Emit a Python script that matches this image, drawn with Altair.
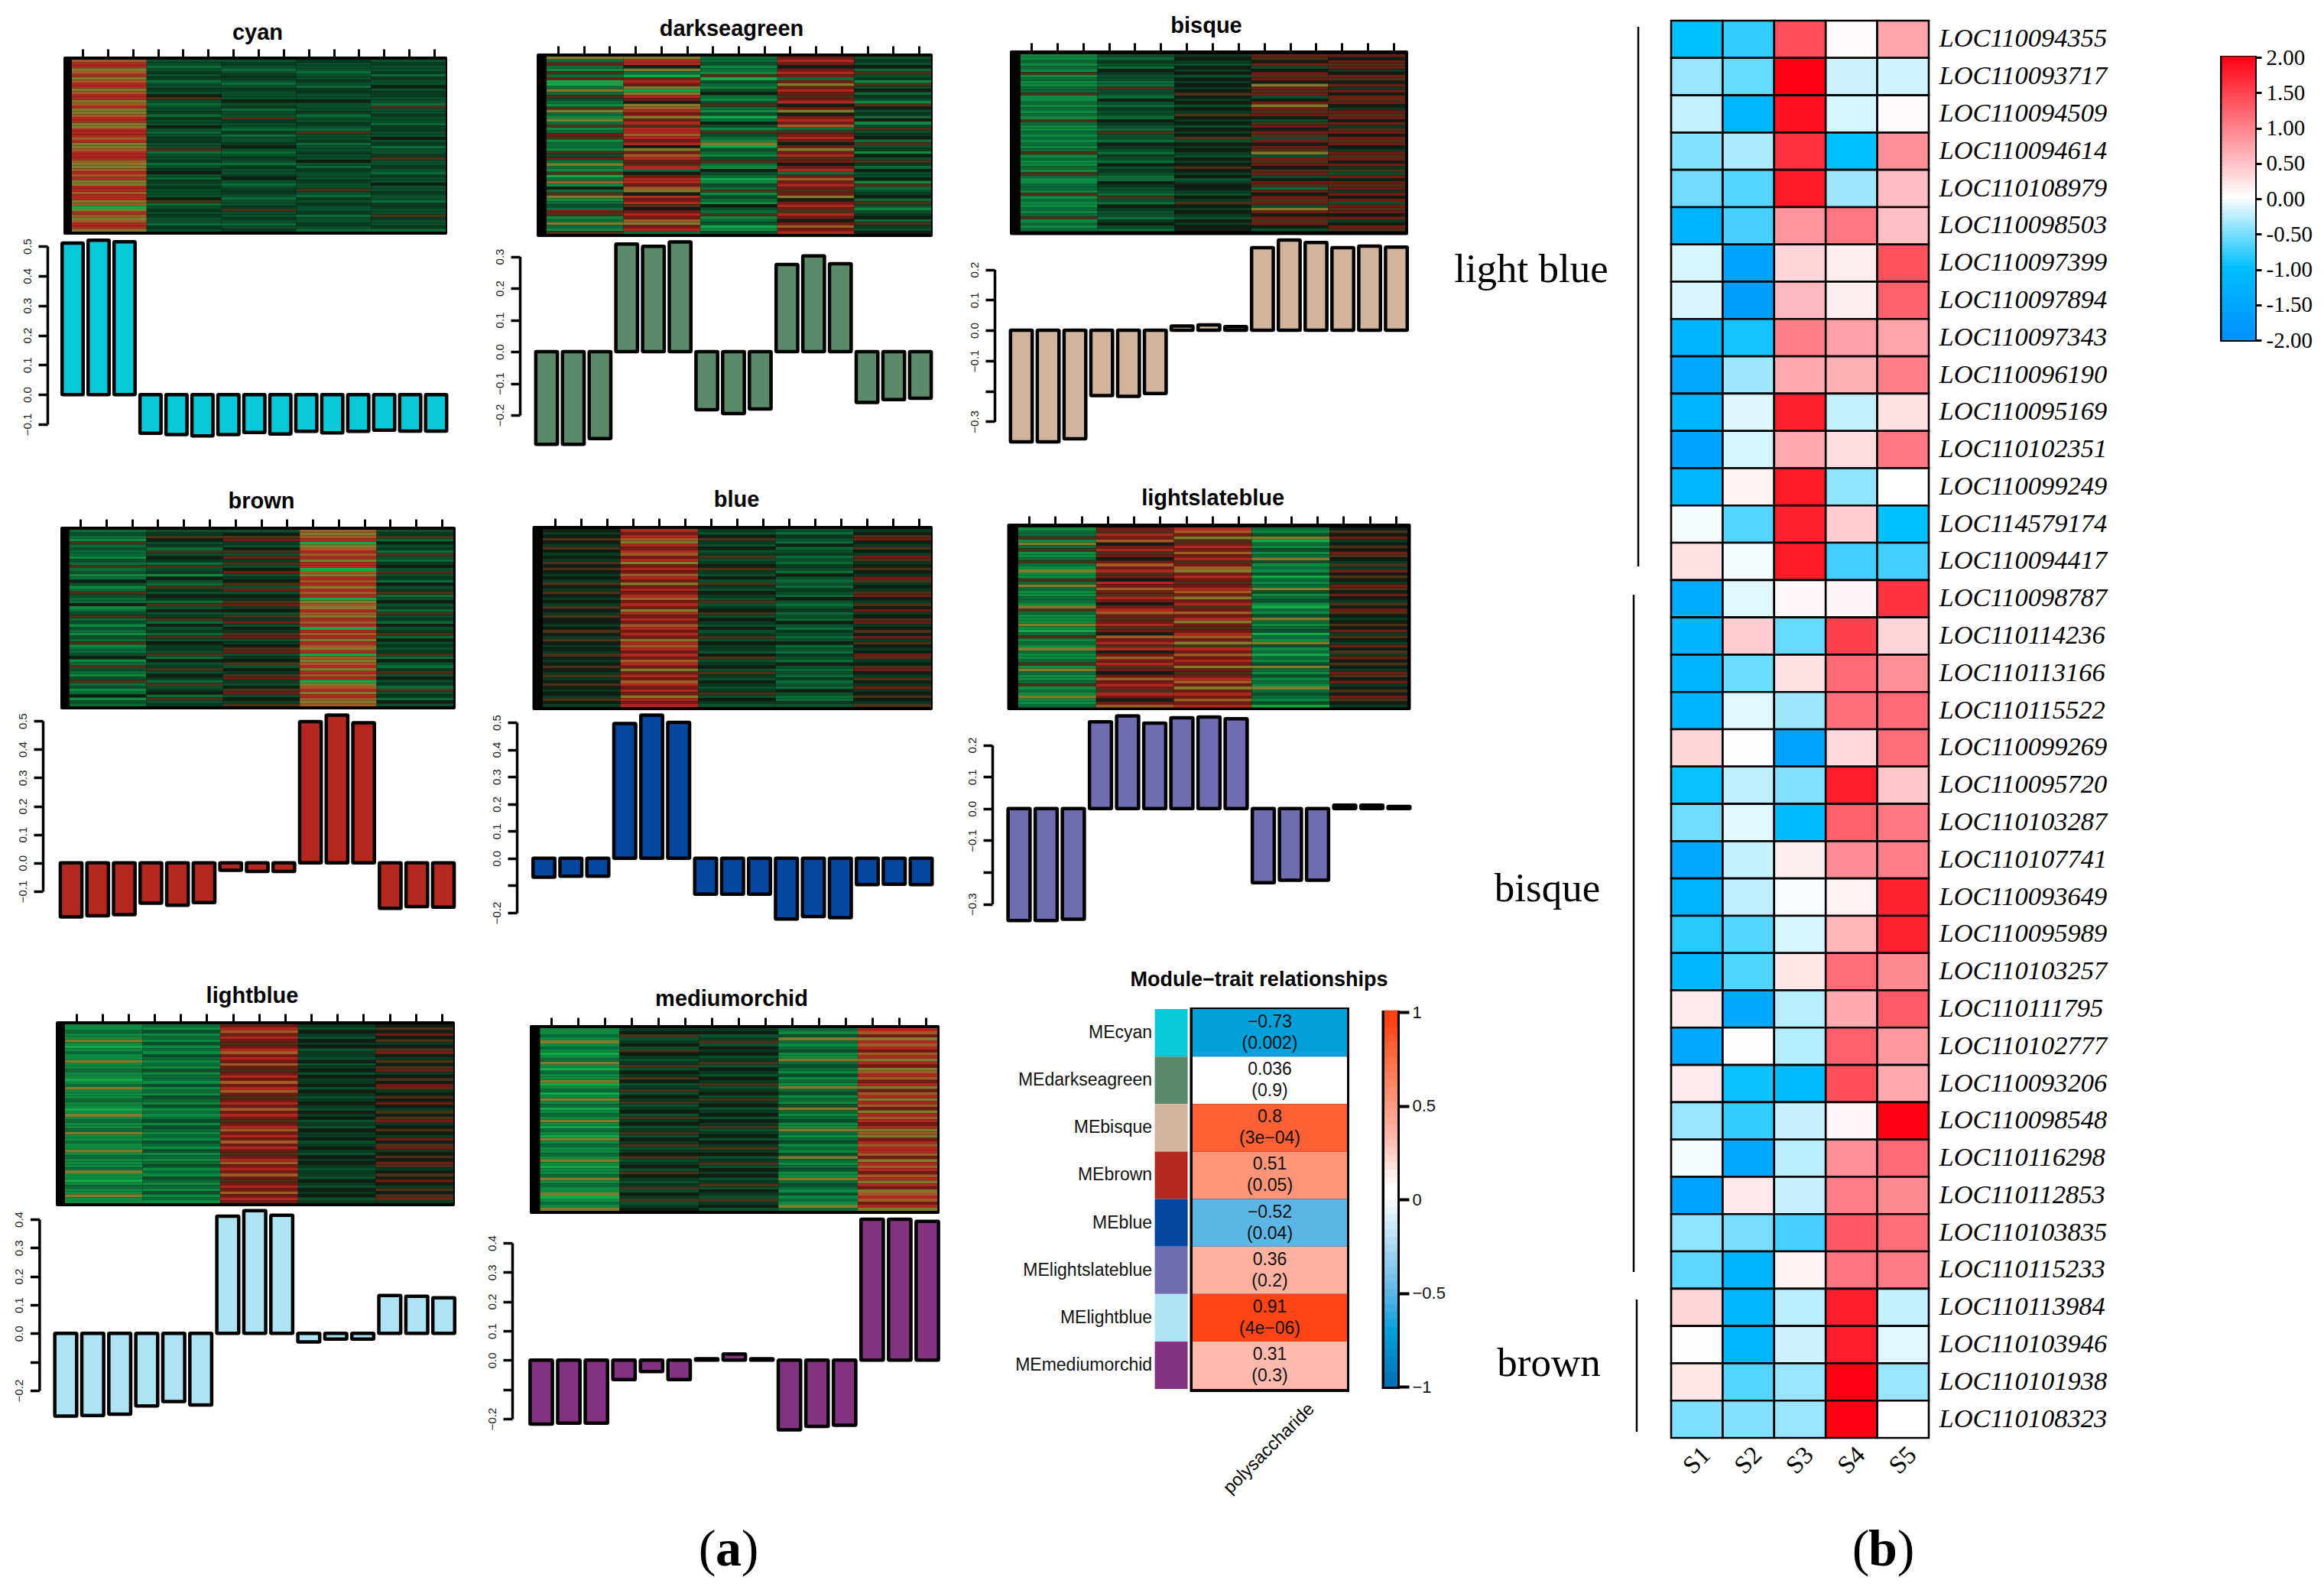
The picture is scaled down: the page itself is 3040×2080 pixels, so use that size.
import altair as alt
import numpy as np

W, H = 3024, 2064
def X(v): return v - 8
def Y(v): return v - 8

TONE_DOMAIN = list("0123456789r")
TONE_RANGE = ["#12A848", "#0D8A3F", "#0A6A38", "#0A4E2C", "#0A3A22", "#111E14",
              "#4A3218", "#A05A28", "#807A2C", "#AE2820", "#701C14"]

STRIPES_CYAN = [
 "799879879987998798879988999798879997887979889979987089787998",
 "332343423343563233424335323443362334234532434333562343433243",
 "343234432343335342336433242334532343243345323443233463343234",
 "433323343244335333423343263342334335324333433632434334233432",
 "343342433534433263343324433534233463343243353343324433643342"]
STRIPES_DARKSEAGREEN = [
 "82r2162r002826321682182612r6122163r28216027152681232r6128216",
 "8995820r9r8089r5879r8r969979r958r79r6925r99r7859r965r9r78r92",
 "223121603213521362130253163218032136215320132613215326123013",
 "r9r5r9r2r8r9r6r95r85r9r726r9r5r8r96r5r92r7r9r6r85r9r69r5r7r9",
 "343526341635243165342513634526341536425335162345263134526435"]
STRIPES_BISQUE = [
 "112121612112261121212162112121212612112162112216121121261212",
 "324325433226332532433254326332543243253432254332632543324532",
 "454354535454565453546545354563545435456545345543546545435455",
 "r65r35r6r58r6r35r8r6r536r5r63r5r683r6r56r35r62r5r6r38r5r6r53",
 "r5r6r45r65r4r5r6r54r6r5r46r5r6r54r6r5r463r5r6r4r5r3r6r5r45r6"]
STRIPES_BROWN = [
 "232162322132623125312632251236231321326122351263213623125132",
 "346534263542634153264354263534625342635443625346354263452634",
 "356r43563r4635r34563r3546r45364r3546r3456r34563546r4356r3546",
 "787908797989907897989790878978979097989789078798979087989787",
 "346253426324536342534623534263425346253434625324635342634253"]
STRIPES_BLUE = [
 "545654654546565454654654546546554565465454654565464565454654",
 "9r9789r97r98r9r79r8r9r97r9r89r9r79r9r8979r9r79r8r9r79r9r89r9",
 "435643534634564353643543634563543534635443563453643543463543",
 "324325234232432532324325323423253243235232432532324232532243",
 "456r54654r645654r64546r5465r456r4565r46545r6456r54654r456546"]
STRIPES_LIGHTSLATEBLUE = [
 "122618261126218116282112218621118102612182112618211261218112",
 "r69r75r96r5r7r96r59r7r69r5r97r6r96r57r9695r7r96r5r7r9r69r5r7",
 "97r86r9r7r96r78r9r6r97r8r96r7r98r6r97r869r7r9r8r6r97r8r9r7r9",
 "213802131283121302128312310213821230218312021382131218232130",
 "565r4565r65464r5654r65r5465r654565r4654r564r5654r65r4565r654"]
STRIPES_LIGHTBLUE = [
 "112118101211811211012811121101812112811211812111281101211811",
 "213121312132121312213121321312123132121321312123121321213121",
 "r97r9r6r97r9r7r6r9r7r97r6r9r7r9r6r97r9r7r9r6r97r9r7r6r9r7r9r",
 "435435453443534535445354345435453435445345435454344354354534",
 "565r56456r54656r4565r64565r54656r45654r56r4565r64565r54656r4"]
STRIPES_MEDIUMORCHID = [
 "112181210128102118012018120121810210812112181011281211801218",
 "456345365434635465346354634536453463546345634536543463546345",
 "453463545346354354634536453453546345354645346354534635436453",
 "213821231182321312182312138212311821231213821231182321312182",
 "97r8979r7989r8797r98r79897r8979r9878r97997r8979r7989r8797r98"]

VALS_CYAN = [.51, .52, .515, -.13, -.135, -.139, -.135, -.128, -.133, -.124, -.129, -.124, -.12, -.123, -.123]
VALS_DARKSEAGREEN = [-.292, -.292, -.274, .339, .332, .346, -.183, -.195, -.181, .275, .302, .277, -.16, -.151, -.147]
VALS_BISQUE = [-.367, -.367, -.357, -.215, -.217, -.208, .014, .018, .012, .272, .297, .289, .272, .277, .274]
VALS_BROWN = [-.19, -.186, -.182, -.142, -.149, -.14, -.026, -.03, -.03, .497, .52, .493, -.16, -.154, -.156]
VALS_BLUE = [-.069, -.066, -.066, .496, .527, .5, -.132, -.132, -.132, -.223, -.214, -.218, -.097, -.095, -.097]
VALS_LIGHTSLATEBLUE = [-.352, -.352, -.348, .273, .292, .269, .286, .288, .283, -.233, -.225, -.225, .011, .011, .007]
VALS_LIGHTBLUE = [-.29, -.2875, -.283, -.254, -.239, -.251, .411, .43, .414, -.03, -.02, -.02, .133, .13, .125]
VALS_MEDIUMORCHID = [-.218, -.215, -.215, -.066, -.039, -.066, .005, .021, .005, -.238, -.226, -.222, .481, .481, .474]

PANELS = [
 dict(t="cyan", tx=337, ty=43, fr=(83, 585, 74, 307), inner=(94, 583, 78, 303), ticks=(108, 568), fill="#09C8D8",
      st=STRIPES_CYAN, v=VALS_CYAN, ax=62, yt=(-.1, .5), yp=(555, 322), c=(95, 570.5), hide=None),
 dict(t="darkseagreen", tx=957, ty=37.5, fr=(702, 1220, 70, 310), inner=(715, 1218, 74, 306), ticks=(730, 1202), fill="#5A8A68",
      st=STRIPES_DARKSEAGREEN, v=VALS_DARKSEAGREEN, ax=680, yt=(-.2, .3), yp=(543, 335.5), c=(715, 1204), hide=None),
 dict(t="bisque", tx=1578, ty=33.6, fr=(1321, 1842, 66, 307.5), inner=(1335, 1838, 71, 302.5), ticks=(1349, 1823), fill="#D2B49C",
      st=STRIPES_BISQUE, v=VALS_BISQUE, ax=1301, yt=(-.3, .2), yp=(551.4, 352.6), c=(1336, 1826.6), hide=-.2),
 dict(t="brown", tx=342, ty=656, fr=(79, 596, 689, 928), inner=(91, 593, 693, 924), ticks=(105, 578), fill="#B42820",
      st=STRIPES_BROWN, v=VALS_BROWN, ax=56, yt=(-.1, .5), yp=(1166, 943), c=(93, 580), hide=None),
 dict(t="blue", tx=963.5, ty=654, fr=(696.5, 1220, 688, 929), inner=(710, 1218, 692, 925), ticks=(725.5, 1201.5), fill="#0447A0",
      st=STRIPES_BLUE, v=VALS_BLUE, ax=676, yt=(-.2, .5), yp=(1194, 945), c=(711.5, 1205), hide=-.1),
 dict(t="lightslateblue", tx=1586.6, ty=652, fr=(1317.5, 1845.5, 685, 929), inner=(1332, 1841, 690, 925.6), ticks=(1346, 1826), fill="#6F6DB0",
      st=STRIPES_LIGHTSLATEBLUE, v=VALS_LIGHTSLATEBLUE, ax=1298, yt=(-.3, .2), yp=(1182.6, 974.7), c=(1333, 1830), hide=-.2),
 dict(t="lightblue", tx=330, ty=1302.5, fr=(73, 595, 1336, 1578), inner=(85, 593, 1340, 1574), ticks=(99.5, 578), fill="#AEE3F5",
      st=STRIPES_LIGHTBLUE, v=VALS_LIGHTBLUE, ax=51.4, yt=(-.2, .4), yp=(1819, 1595), c=(86, 580.5), hide=-.1),
 dict(t="mediumorchid", tx=957, ty=1307, fr=(693, 1229, 1341, 1588), inner=(706.5, 1226, 1345, 1584), ticks=(720.5, 1210.6), fill="#833380",
      st=STRIPES_MEDIUMORCHID, v=VALS_MEDIUMORCHID, ax=670, yt=(-.2, .4), yp=(1856, 1626), c=(708, 1213), hide=-.1),
]

MODULES = ["MEcyan", "MEdarkseagreen", "MEbisque", "MEbrown", "MEblue", "MElightslateblue", "MElightblue", "MEmediumorchid"]
MODULE_COLORS = ["#09C8D8", "#5A8A68", "#D2B49C", "#B42820", "#0447A0", "#6F6DB0", "#AEE3F5", "#833380"]
TRAIT_R = [-.73, .036, .8, .51, -.52, .36, .91, .31]
TRAIT_P = ["(0.002)", "(0.9)", "(3e\u221204)", "(0.05)", "(0.04)", "(0.2)", "(4e\u221206)", "(0.3)"]
TRAIT_LABEL = ["\u22120.73", "0.036", "0.8", "0.51", "\u22120.52", "0.36", "0.91", "0.31"]
TRAIT_STOPS = [-1, -.73, -.52, 0, .04, .31, .51, .8, .91, 1]
TRAIT_COLORS = ["#0072B5", "#00A0DB", "#5DB5E6", "#FFFFFF", "#FFFFFF", "#FFBAAD", "#FF9578", "#FF6035", "#FF4515", "#FF3D10"]

GENES = ["LOC110094355", "LOC110093717", "LOC110094509", "LOC110094614", "LOC110108979", "LOC110098503",
         "LOC110097399", "LOC110097894", "LOC110097343", "LOC110096190", "LOC110095169", "LOC110102351",
         "LOC110099249", "LOC114579174", "LOC110094417", "LOC110098787", "LOC110114236", "LOC110113166",
         "LOC110115522", "LOC110099269", "LOC110095720", "LOC110103287", "LOC110107741", "LOC110093649",
         "LOC110095989", "LOC110103257", "LOC110111795", "LOC110102777", "LOC110093206", "LOC110098548",
         "LOC110116298", "LOC110112853", "LOC110103835", "LOC110115233", "LOC110113984", "LOC110103946",
         "LOC110101938", "LOC110108323"]
STAGES = ["S1", "S2", "S3", "S4", "S5"]
EXPR = [
 [-1.0, -.8, 1.4, .03, .7], [-.4, -.6, 2.0, -.2, -.19], [-.24, -1.2, 1.87, -.16, .05], [-.48, -.33, 1.6, -1.0, .87],
 [-.56, -.67, 1.8, -.38, .52], [-1.25, -.73, .83, 1.06, .5], [-.16, -1.6, .33, .13, 1.37], [-.15, -1.7, .55, .13, 1.25],
 [-1.25, -.93, 1.0, .75, .71], [-1.5, -.38, .67, .62, 1.0], [-1.25, -.13, 1.75, -.23, .24], [-1.6, -.16, .67, .27, 1.06],
 [-1.2, .12, 1.8, -.44, 0], [-.04, -.67, 1.75, .4, -1.0], [.24, -.04, 1.8, -.75, -.75], [-1.4, -.12, .06, .08, 1.6],
 [-1.25, .4, -.6, 1.5, .33], [-1.25, -.58, .24, 1.17, .88], [-1.25, -.12, -.38, 1.12, 1.17], [.33, .02, -1.6, .3, 1.16],
 [-.96, -.25, -.48, 1.78, .45], [-.57, -.12, -1.1, 1.25, 1.06], [-1.5, -.23, .13, .9, 1.0], [-1.3, -.25, -.03, .12, 1.73],
 [-.84, -.67, -.16, .58, 1.73], [-1.2, -.69, .2, 1.16, .93], [.16, -1.5, -.28, .67, 1.29], [-1.5, -.01, -.29, 1.25, .8],
 [.16, -.95, -1.1, 1.4, .67], [-.4, -.8, -.22, .07, 2.0], [-.05, -1.5, -.27, .88, 1.17], [-1.6, .18, -.22, 1.0, .92],
 [-.44, -.53, -.73, 1.3, 1.14], [-.63, -1.3, .1, 1.09, 1.03], [.33, -1.2, -.27, 1.78, -.23], [.02, -1.2, -.2, 1.78, -.12],
 [.2, -.67, -.4, 2.0, -.4], [-.5, -.48, -.4, 2.0, 0]]
EXPR_STOPS = [-2, -1, 0, 2]
EXPR_COLORS = ["#0090FF", "#00BFFF", "#FFFFFF", "#FF0012"]

SANS = "Liberation Sans"
SERIF = "Liberation Serif"
DUMMY = alt.Data(values=[{"a": 1}])
layers = []

def box(x0, x1, y0, y1, color="black", **kw):
    return alt.Chart(DUMMY).mark_rect(color=color, **kw).encode(
        x=alt.value(X(x0)), x2=alt.value(X(x1)), y=alt.value(Y(y0)), y2=alt.value(Y(y1)))

def label(s, x, y, size, font=SANS, weight="normal", style="normal", angle=0, align="center", color="black"):
    return alt.Chart(alt.Data(values=[{"s": s}])).mark_text(
        fontSize=size, font=font, fontWeight=weight, fontStyle=style, angle=angle, align=align,
        baseline="middle", color=color).encode(text="s:N", x=alt.value(X(x)), y=alt.value(Y(y)))

for p in PANELS:
    fx0, fx1, fy0, fy1 = p["fr"]
    ix0, ix1, iy0, iy1 = p["inner"]
    layers.append(box(fx0, fx1, fy0, fy1, cornerRadius=2))
    rows = []
    for g, s in enumerate(p["st"]):
        n = len(s)
        for r, ch in enumerate(s):
            rows.append({"x0": g * 3, "x1": (g + 1) * 3, "y0": r / n, "y1": (r + 1) / n, "tone": ch})
    layers.append(alt.Chart(alt.Data(values=rows)).mark_rect(strokeWidth=0).encode(
        x=alt.X("x0:Q", scale=alt.Scale(domain=[0, 15], range=[X(ix0), X(ix1)], nice=False, zero=False), axis=None),
        x2="x1:Q",
        y=alt.Y("y0:Q", scale=alt.Scale(domain=[0, 1], range=[Y(iy0), Y(iy1)], nice=False, zero=False), axis=None),
        y2="y1:Q",
        color=alt.Color("tone:N", scale=alt.Scale(domain=TONE_DOMAIN, range=TONE_RANGE), legend=None)))
    # sample ticks along the top of each heat map
    layers.append(alt.Chart(alt.Data(values=[{"s": i} for i in range(15)])).mark_point(opacity=0).encode(
        x=alt.X("s:Q", scale=alt.Scale(domain=[0, 14], range=[X(p["ticks"][0]), X(p["ticks"][1])], nice=False, zero=False),
                axis=alt.Axis(orient="top", offset=-Y(fy0), values=list(range(15)), labels=False, domain=False,
                              tickSize=10, tickWidth=3, tickColor="black", grid=False, title=None))))
    layers.append(label(p["t"], p["tx"], p["ty"], 29, weight="bold"))

    expr = "datum.label" if p["hide"] is None else f"abs(datum.value-({p['hide']}))<0.001 ? '' : datum.label"
    t0, t1 = p["yt"]
    ticks = [round(t0 + i * .1, 1) for i in range(int(round((t1 - t0) * 10)) + 1)]
    step = (p["c"][1] - p["c"][0]) / 14
    vals = [{"i": i, "v": v} for i, v in enumerate(p["v"])]
    layers.append(alt.Chart(alt.Data(values=vals)).mark_bar(color=p["fill"], stroke="black", strokeWidth=4.5, cornerRadius=1).encode(
        x=alt.X("i:O", scale=alt.Scale(domain=list(range(15)), range=[X(p["c"][0] - step / 2), X(p["c"][1] + step / 2)],
                                        paddingInner=.19, paddingOuter=.095), axis=None),
        y=alt.Y("v:Q", stack=None, scale=alt.Scale(domain=[t0, t1], range=[Y(p["yp"][0]), Y(p["yp"][1])], nice=False, zero=False),
                axis=alt.Axis(orient="left", offset=-X(p["ax"]), values=ticks, format=".1f", labelExpr=expr,
                              labelAngle=270, labelAlign="center", labelBaseline="middle", labelPadding=15,
                              labelFont=SANS, labelFontSize=15, labelColor="#222", labelOverlap=False, labelFlush=False,
                              tickSize=12, tickWidth=3.5, tickColor="black", domainWidth=3.5, domainColor="black",
                              grid=False, title=None))))

# module-trait relationships
trait = [{"me": m, "r": r, "txt": lab + "\n" + pv} for m, r, lab, pv in zip(MODULES, TRAIT_R, TRAIT_LABEL, TRAIT_P)]
row_scale = lambda: alt.Scale(domain=MODULES, range=[Y(1320), Y(1817)], paddingInner=0, paddingOuter=0)
layers.append(alt.Chart(alt.Data(values=trait)).mark_rect().encode(
    x=alt.value(X(1510.6)), x2=alt.value(X(1553.6)),
    y=alt.Y("me:N", sort=None, scale=row_scale(),
            axis=alt.Axis(orient="left", offset=-X(1510.6), ticks=False, domain=False, labelPadding=4, labelFont=SANS,
                          labelFontSize=23, labelColor="#111", labelLimit=400, title=None, grid=False)),
    color=alt.Color("me:N", scale=alt.Scale(domain=MODULES, range=MODULE_COLORS), legend=None)))
layers.append(box(1556.5, 1765, 1318, 1821))
layers.append(alt.Chart(alt.Data(values=trait)).mark_rect().encode(
    x=alt.value(X(1560)), x2=alt.value(X(1762)),
    y=alt.Y("me:N", sort=None, scale=row_scale(), axis=None),
    color=alt.Color("r:Q", scale=alt.Scale(domain=TRAIT_STOPS, range=TRAIT_COLORS, interpolate="rgb"), legend=None)))
layers.append(alt.Chart(alt.Data(values=trait)).mark_text(fontSize=23, font=SANS, lineBreak="\n", lineHeight=28, dy=-14, color="#111").encode(
    x=alt.value(X(1661)),
    y=alt.Y("me:N", sort=None, scale=row_scale(), axis=None),
    text="txt:N"))
layers.append(label("Module\u2212trait relationships", 1647, 1281.5, 27, weight="bold"))
layers.append(label("polysaccharide", 1660, 1895, 23.5, angle=315))

# trait colour bar
TRAIT_LEVELS = [round(float(v), 3) for v in np.arange(-1, 1, .04)]
layers.append(box(1807.5, 1831, 1322, 1817))
bar_scale = alt.Scale(domain=[-1, 1], range=[Y(1814), Y(1324)], nice=False, zero=False)
layers.append(alt.Chart(alt.Data(values=[{"v": v, "v2": round(v + .05, 3)} for v in TRAIT_LEVELS])).mark_rect().encode(
    x=alt.value(X(1811)), x2=alt.value(X(1828)),
    y=alt.Y("v:Q", scale=bar_scale,
            axis=alt.Axis(orient="right", offset=-(W - X(1829)), values=[-1, -.5, 0, .5, 1], format="~g", tickSize=14, tickWidth=4,
                          tickColor="black", domain=False, labelFont=SANS, labelFontSize=22, labelColor="#111",
                          labelPadding=4, grid=False, title=None, labelFlush=False, labelOverlap=False)),
    y2="v2:Q",
    color=alt.Color("v:Q", scale=alt.Scale(domain=TRAIT_STOPS, range=TRAIT_COLORS, interpolate="rgb"), legend=None)))

# expression heat map
cells = [{"g": g, "s": s, "v": v} for g, row in zip(GENES, EXPR) for s, v in zip(STAGES, row)]
layers.append(alt.Chart(alt.Data(values=cells)).mark_rect(stroke="black", strokeWidth=2.6).encode(
    x=alt.X("s:N", sort=None, scale=alt.Scale(domain=STAGES, range=[X(2186), X(2523)], paddingInner=0, paddingOuter=0),
            axis=alt.Axis(orient="bottom", offset=-(H - Y(1880)), ticks=False, domain=False, labelAngle=315, labelAlign="center",
                          labelBaseline="middle", labelPadding=30, labelFont=SERIF, labelFontSize=33, labelColor="black",
                          title=None, grid=False)),
    y=alt.Y("g:N", sort=None, scale=alt.Scale(domain=GENES, range=[Y(27), Y(1881)], paddingInner=0, paddingOuter=0),
            axis=alt.Axis(orient="right", offset=-(W - X(2523)), ticks=False, domain=False, labelPadding=13, labelFont=SERIF,
                          labelFontStyle="italic", labelFontSize=34.5, labelColor="black", labelLimit=400, title=None, grid=False)),
    color=alt.Color("v:Q", scale=alt.Scale(domain=EXPR_STOPS, range=EXPR_COLORS, interpolate="rgb"), legend=None)))

# expression colour bar
EXPR_LEVELS = [round(float(v), 3) for v in np.arange(-2, 2, .05)]
layers.append(box(2904, 2952, 73, 447))
layers.append(alt.Chart(alt.Data(values=[{"v": v, "v2": round(v + .06, 3)} for v in EXPR_LEVELS])).mark_rect().encode(
    x=alt.value(X(2906.5)), x2=alt.value(X(2950)),
    y=alt.Y("v:Q", scale=alt.Scale(domain=[-2, 2], range=[Y(445), Y(75)], nice=False, zero=False),
            axis=alt.Axis(orient="right", offset=-(W - X(2951)), values=[-2, -1.5, -1, -.5, 0, .5, 1, 1.5, 2],
                          labelExpr="replace(format(datum.value,'.2f'),'\u2212','-')", tickSize=7, tickWidth=3,
                          tickColor="black", domain=False, labelFont=SERIF, labelFontSize=29, labelColor="black",
                          labelPadding=6, grid=False, title=None, labelFlush=False, labelOverlap=False)),
    y2="v2:Q",
    color=alt.Color("v:Q", scale=alt.Scale(domain=EXPR_STOPS, range=EXPR_COLORS, interpolate="rgb"), legend=None)))

# module brackets and their names
for name, bx, by0, by1, tx, ty in [("light blue", 2143, 35, 741, 2003, 353), ("bisque", 2137, 778, 1664, 2024, 1163),
                                   ("brown", 2141, 1700, 1873, 2026, 1784)]:
    layers.append(alt.Chart(DUMMY).mark_rule(color="black", strokeWidth=2.5).encode(
        x=alt.value(X(bx)), y=alt.value(Y(by0)), y2=alt.value(Y(by1))))
    layers.append(label(name, tx, ty, 53, font=SERIF))

# panel letters
for ch, w, x in [("(", "normal", 925), ("a", "bold", 953), (")", "normal", 981),
                 ("(", "normal", 2434), ("b", "bold", 2463), (")", "normal", 2493)]:
    layers.append(label(ch, x, 2028, 68, font=SERIF, weight=w))

chart = alt.layer(*layers).resolve_scale(x="independent", y="independent", color="independent").properties(
    width=W, height=H, padding=0, autosize=alt.AutoSizeParams(type="none"), background="white"
).configure_view(stroke=None)

chart.save("out.html", embed_options={"renderer": "svg", "actions": False})
